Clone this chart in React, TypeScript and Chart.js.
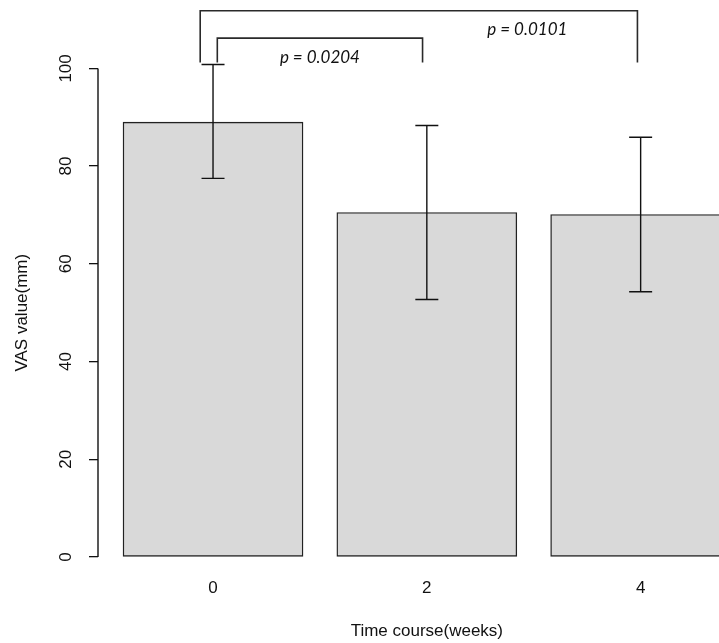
import React, { useEffect, useRef } from 'react';
import { Chart, registerables } from 'chart.js';

Chart.register(...registerables);

// ---- data ----
const categories = [0, 2, 4];
const vasMean = [89.0, 70.5, 70.1];
const errLow = [77.5, 52.7, 54.3];
const errHigh = [100.8, 88.3, 85.9];
const yTickValues = [0, 20, 40, 60, 80, 100];

// significance brackets (x in week units, y in mm)
const bracketStart = [0.04, -0.12];
const bracketEnd = [1.96, 3.97];
const bracketTop = [106.2, 111.8];
const bracketFoot = [101.2, 101.2];
const pLabels = ['p = 0.0204', 'p = 0.0101'];
const pLabelX = [1.0, 2.94];
const pLabelY = [102.3, 108.0];

const xTitle = 'Time course(weeks)';
const yTitle = 'VAS value(mm)';

const FONT = 'Liberation Sans, Arial, sans-serif';
const INK = '#111';

const annotations = {
  id: 'annotations',
  afterDatasetsDraw(chart: any) {
    const { ctx } = chart;
    const x = chart.scales.x;
    const y = chart.scales.y;
    const area = chart.chartArea;
    ctx.save();
    ctx.strokeStyle = INK;
    ctx.fillStyle = INK;
    ctx.lineWidth = 1.4;

    // y axis line from 0 to 100
    ctx.beginPath();
    ctx.moveTo(area.left, y.getPixelForValue(yTickValues[0]));
    ctx.lineTo(area.left, y.getPixelForValue(yTickValues[yTickValues.length - 1]));
    ctx.stroke();

    // error bars
    const cap = 11.5;
    categories.forEach((c, i) => {
      const px = x.getPixelForValue(c);
      const lo = y.getPixelForValue(errLow[i]);
      const hi = y.getPixelForValue(errHigh[i]);
      ctx.beginPath();
      ctx.moveTo(px, lo);
      ctx.lineTo(px, hi);
      ctx.moveTo(px - cap, lo);
      ctx.lineTo(px + cap, lo);
      ctx.moveTo(px - cap, hi);
      ctx.lineTo(px + cap, hi);
      ctx.stroke();
    });

    // brackets
    ctx.lineWidth = 1.6;
    ctx.strokeStyle = '#2a2a2a';
    bracketStart.forEach((s, i) => {
      const x1 = x.getPixelForValue(s);
      const x2 = x.getPixelForValue(bracketEnd[i]);
      const yt = y.getPixelForValue(bracketTop[i]);
      const yf = y.getPixelForValue(bracketFoot[i]);
      ctx.beginPath();
      ctx.moveTo(x1, yf);
      ctx.lineTo(x1, yt);
      ctx.lineTo(x2, yt);
      ctx.lineTo(x2, yf);
      ctx.stroke();
    });

    // p labels
    ctx.font = 'italic 17px Lato, "Open Sans", sans-serif';
    ctx.fillStyle = '#111';
    ctx.textAlign = 'center';
    ctx.textBaseline = 'middle';
    pLabels.forEach((t, i) => {
      ctx.fillText(t, x.getPixelForValue(pLabelX[i]), y.getPixelForValue(pLabelY[i]));
    });

    // axis titles
    ctx.font = '17px ' + FONT;
    ctx.fillStyle = INK;
    ctx.fillText(xTitle, x.getPixelForValue(categories[1]), chart.height - 12);
    ctx.save();
    ctx.translate(22, y.getPixelForValue(50));
    ctx.rotate(-Math.PI / 2);
    ctx.fillText(yTitle, 0, 0);
    ctx.restore();

    ctx.restore();
  },
};

export default function App() {
  const ref = useRef<HTMLCanvasElement>(null);

  useEffect(() => {
    if (!ref.current) return;
    const chart = new Chart(ref.current, {
      type: 'bar',
      data: {
        datasets: [
          {
            data: categories.map((c, i) => ({ x: c, y: vasMean[i] })),
            backgroundColor: '#d9d9d9',
            borderColor: '#222',
            borderWidth: 1.4,
            borderSkipped: false,
            barThickness: 180,
          },
        ],
      },
      options: {
        animation: false,
        responsive: false,
        devicePixelRatio: 1,
        layout: { padding: 0 },
        plugins: { legend: { display: false }, tooltip: { enabled: false } },
        scales: {
          x: {
            type: 'linear',
            offset: false,
            min: -1.076,
            max: 4.733,
            grid: { display: false, drawTicks: false, offset: false },
            border: { display: false },
            ticks: { font: { family: FONT, size: 17 }, color: INK, padding: 21 },
            afterBuildTicks: (s: any) => {
              s.ticks = categories.map((v) => ({ value: v }));
            },
            afterFit: (s: any) => {
              s.height = 86;
              s.paddingLeft = 0;
              s.paddingRight = 0;
            },
          },
          y: {
            min: 0,
            max: 114,
            grid: {
              display: true,
              drawOnChartArea: false,
              drawTicks: true,
              tickLength: 9,
              color: INK,
              lineWidth: 1.3,
            },
            border: { display: false },
            ticks: {
              minRotation: 90,
              maxRotation: 90,
              crossAlign: 'center',
              padding: 9,
              font: { family: FONT, size: 17 },
              color: INK,
            },
            afterBuildTicks: (s: any) => {
              s.ticks = yTickValues.map((v) => ({ value: v }));
            },
            afterFit: (s: any) => {
              s.width = 98;
              s.paddingTop = 0;
              s.paddingBottom = 0;
            },
          },
        },
      } as any,
      plugins: [annotations],
    });
    return () => chart.destroy();
  }, []);

  return (
    <div style={{ position: 'fixed', left: 0, top: 0, width: 719, height: 643, background: '#fff', overflow: 'hidden' }}>
      <canvas ref={ref} width={719} height={643} style={{ display: 'block', width: 719, height: 643 }} />
    </div>
  );
}
